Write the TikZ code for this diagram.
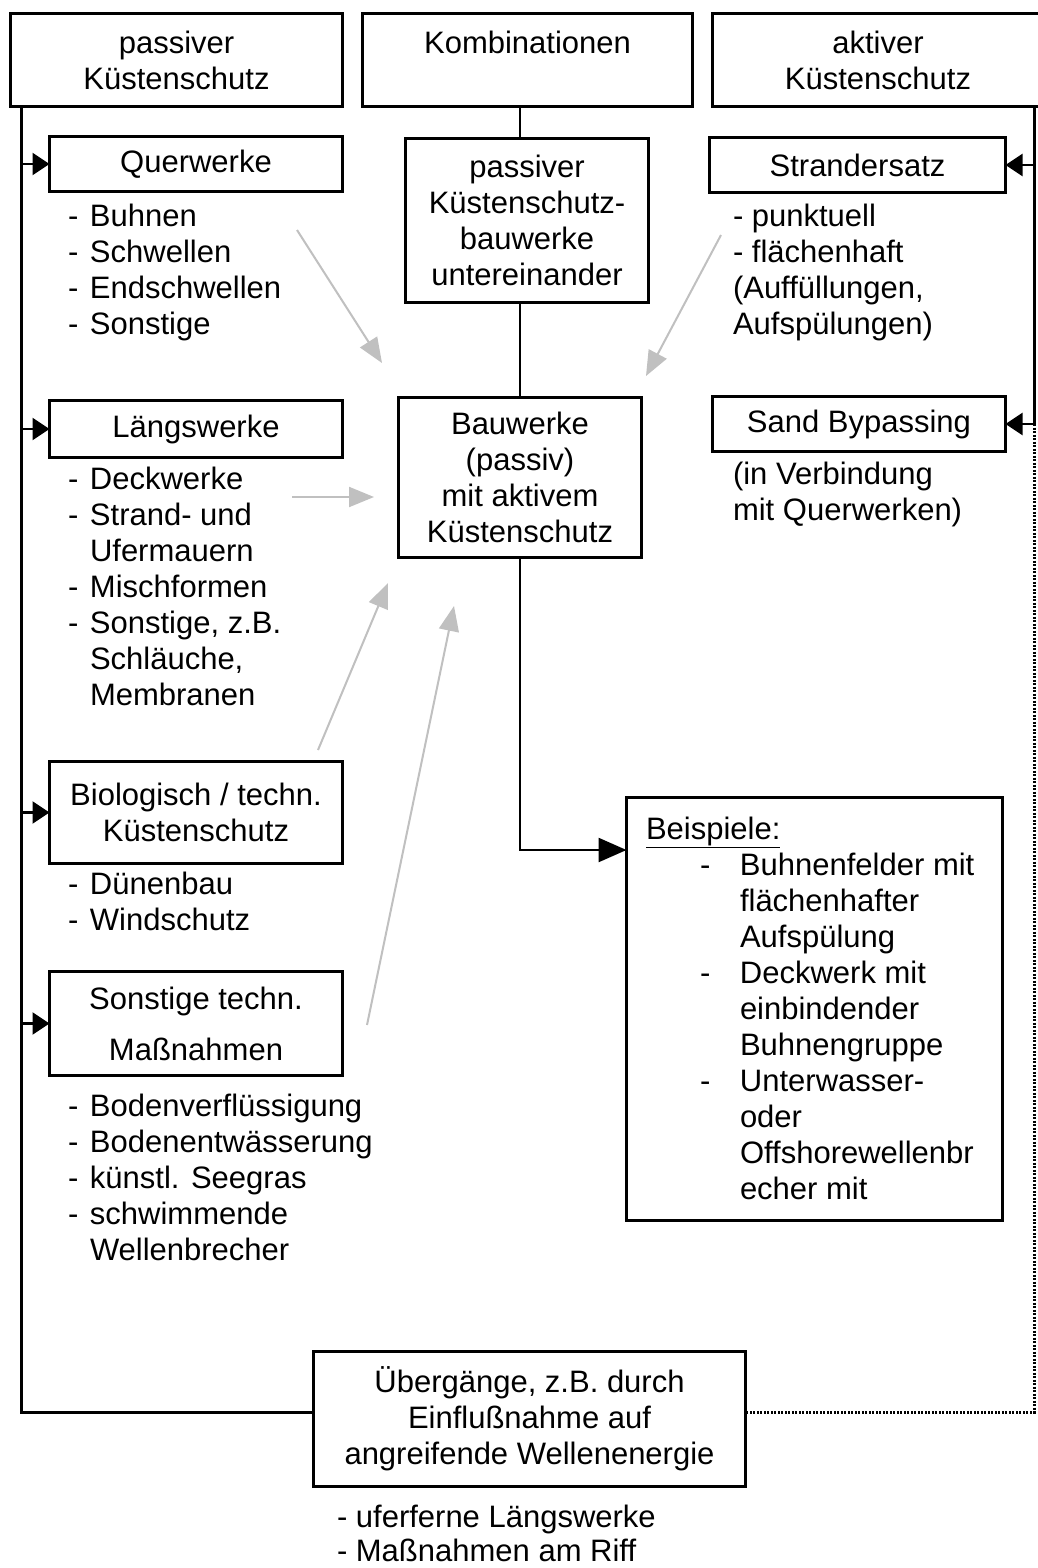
\documentclass[tikz,border=0pt]{standalone}
\usepackage{fontspec}
\setmainfont{Liberation Sans}
\usetikzlibrary{arrows.meta}
\definecolor{arrowgrey}{RGB}{192,192,192}
% list with a dash column and a text column
\newcommand{\dashlist}[1]{\begin{tabular}[t]{@{}p{22pt}@{}l@{}}#1\end{tabular}}
% list with plain left-aligned lines
\newcommand{\plainlist}[1]{\begin{tabular}[t]{@{}l@{}}#1\end{tabular}}

\begin{document}
\begin{tikzpicture}[x=1pt,y=-1pt,
  every node/.style={inner sep=0pt, outer sep=0pt, font=\fontsize{31}{36}\selectfont},
  box/.style={draw, line width=3.5pt, align=center},
  listtext/.style={anchor=base west},
  trunk/.style={line width=3pt},
  link/.style={line width=2.5pt},
  feed/.style={line width=2.5pt, -{Triangle[length=17pt,width=22pt]}},
  bigfeed/.style={line width=2.5pt, -{Triangle[length=28pt,width=24pt]}},
  greyarrow/.style={draw=arrowgrey, line width=2pt,
    -{Triangle[length=25pt,width=20pt]}, arrowgrey},
  sidelink/.style={line width=3pt, dash pattern=on 2pt off 1.5pt}
]
% page
\useasboundingbox[fill=white] (0,0) rectangle (1037,1568);

% column heads
\node[box, minimum width=332pt, minimum height=93pt] (pass) at (176.5,60)
  {passiver\\Küstenschutz};
\node[box, minimum width=330pt, minimum height=93pt] (komb) at (527.5,60)
  {Kombinationen\\\mbox{}};
\node[box, minimum width=331pt, minimum height=93pt] (akt) at (878,60)
  {aktiver\\Küstenschutz};

% passive measures
\node[box, minimum width=293pt, minimum height=55pt] (quer) at (196,164) {Querwerke};
\node[listtext] (querlist) at (68,226)
  {\dashlist{- & Buhnen\\- & Schwellen\\- & Endschwellen\\- & Sonstige}};

\node[box, minimum width=293pt, minimum height=57pt] (laengs) at (196,429) {Längswerke};
\node[listtext] (laengslist) at (68,489)
  {\dashlist{- & Deckwerke\\- & Strand- und\\ & Ufermauern\\- & Mischformen\\- & Sonstige, z.B.\\ & Schläuche,\\ & Membranen}};

\node[box, minimum width=293pt, minimum height=102pt] (bio) at (196,812.5)
  {Biologisch / techn.\\Küstenschutz};
\node[listtext] (biolist) at (68,894)
  {\dashlist{- & Dünenbau\\- & Windschutz}};

\node[box, minimum width=293pt, minimum height=104pt] (sonst) at (196,1023.5)
  {Sonstige techn.\\[15pt]Maßnahmen};
\node[listtext] (sonstlist) at (68,1116)
  {\dashlist{- & Bodenverflüssigung\\- & Bodenentwässerung\\- & künstl. Seegras\\- & schwimmende\\ & Wellenbrecher}};

% combinations
\node[box, minimum width=243pt, minimum height=164pt] (pkb) at (527,220.5)
  {passiver\\Küstenschutz-\\bauwerke\\untereinander};
\node[box, minimum width=243pt, minimum height=160pt] (bauw) at (520,477.5)
  {Bauwerke\\(passiv)\\mit aktivem\\Küstenschutz};

\node[draw, line width=3.5pt, minimum width=376pt, minimum height=423pt] (beisp) at (814.5,1009) {};
\node[listtext] (beisptext) at (646,839)
  {\begin{tabular}[t]{@{}p{54pt}@{}p{40pt}@{}l@{}}
   \multicolumn{3}{@{}l}{\underline{Beispiele:}}\\
   & - & Buhnenfelder mit\\ & & flächenhafter\\ & & Aufspülung\\
   & - & Deckwerk mit\\ & & einbindender\\ & & Buhnengruppe\\
   & - & Unterwasser-\\ & & oder\\ & & Offshorewellenbr\\ & & echer mit
   \end{tabular}};

% active measures
\node[box, minimum width=296pt, minimum height=55pt] (strand) at (857.5,165) {Strandersatz};
\node[listtext] (strandlist) at (733,226)
  {\plainlist{- punktuell\\- flächenhaft\\(Auffüllungen,\\Aufspülungen)}};

\node[box, minimum width=293pt, minimum height=55pt] (sand) at (859,424) {Sand Bypassing};
\node[listtext] (sandlist) at (733,484)
  {\plainlist{(in Verbindung\\mit Querwerken)}};

% transitions
\node[box, minimum width=432pt, minimum height=135pt] (ueb) at (529.5,1419)
  {Übergänge, z.B. durch\\Einflußnahme auf\\angreifende Wellenenergie};
\node[listtext] (ueblist) at (337,1527)
  {\plainlist{- uferferne Längswerke\\[-2pt]- Maßnahmen am Riff}};

% routing points
\coordinate (L) at (21,1412);
\coordinate (R) at (1034,1412);
\coordinate (C) at (520,850);

% left trunk: passive measures
\draw[trunk] (pass.south -| L) -- (L) -- (L -| ueb.west);
\draw[feed] (quer.west -| L) -- (quer.west);
\draw[feed] (laengs.west -| L) -- (laengs.west);
\draw[feed] (bio.west -| L) -- (bio.west);
\draw[feed] (sonst.west -| L) -- (sonst.west);

% right trunk: active measures
\draw[trunk] (akt.south -| R) -- (sand.east -| R);
\draw[feed] (strand.east -| R) -- (strand.east);
\draw[feed] (sand.east -| R) -- (sand.east);
\draw[sidelink] (sand.east -| R) -- (R) -- (ueb.east |- R);

% centre column
\draw[link] (komb.south -| bauw.north) -- (pkb.north -| bauw.north);
\draw[link] (pkb.south -| bauw.north) -- (bauw.north);
\draw[bigfeed] (bauw.south) -- (C) -- (C -| beisp.west);

% grey influence arrows
\coordinate (g1s) at (297,230);  \coordinate (g1e) at (382,363);
\coordinate (g2s) at (721,235);  \coordinate (g2e) at (646,376);
\coordinate (g3s) at (292,497);  \coordinate (g3e) at (374,497);
\coordinate (g4s) at (318,750);  \coordinate (g4e) at (388,583);
\coordinate (g5s) at (367,1025); \coordinate (g5e) at (454,606);
\draw[greyarrow] (g1s) -- (g1e);
\draw[greyarrow] (g2s) -- (g2e);
\draw[greyarrow] (g3s) -- (g3e);
\draw[greyarrow] (g4s) -- (g4e);
\draw[greyarrow] (g5s) -- (g5e);
\end{tikzpicture}
\end{document}
